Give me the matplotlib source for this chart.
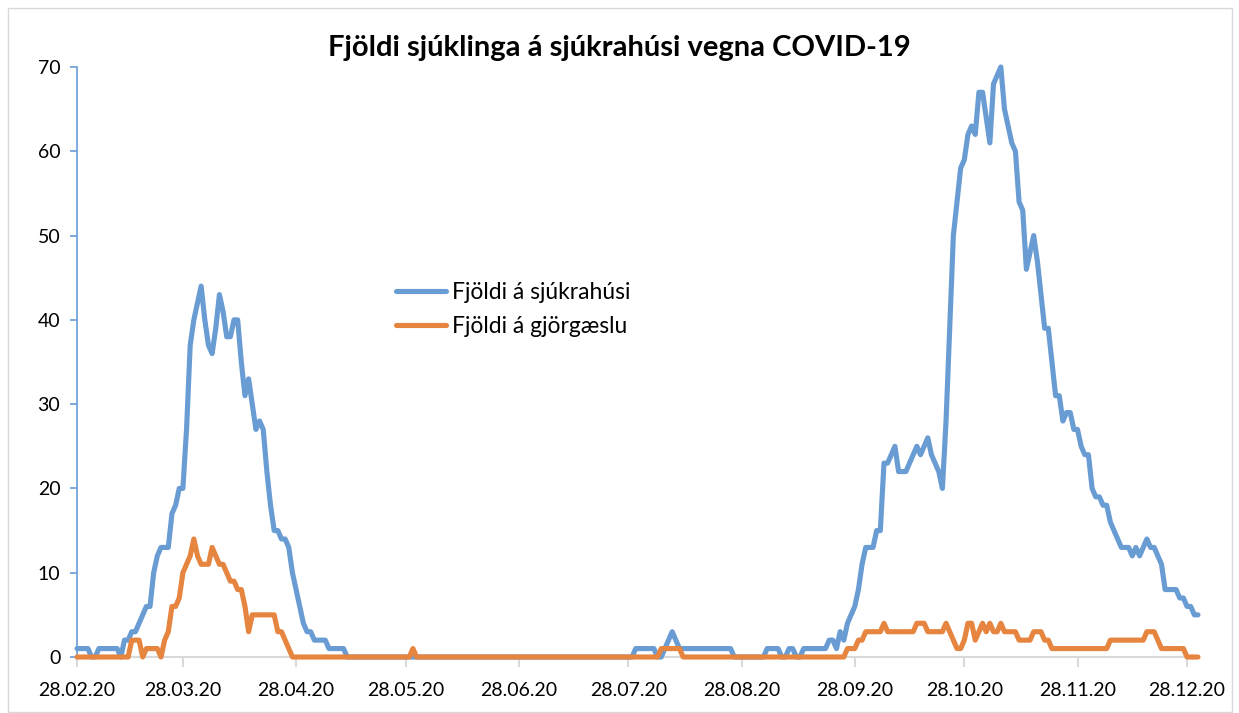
import matplotlib
matplotlib.use('Agg')
import matplotlib.pyplot as plt
import matplotlib.dates as mdates
import pandas as pd

# daily counts 28.02.2020 - 31.12.2020
dates = pd.date_range('2020-02-28', '2020-12-31', freq='D')

hospital = [
    1, 1, 1, 1, 0, 0, 1, 1, 1, 1,
    1, 1, 0, 2, 2, 3, 3, 4, 5, 6,
    6, 10, 12, 13, 13, 13, 17, 18, 20, 20,
    27, 37, 40, 42, 44, 40, 37, 36, 39, 43,
    41, 38, 38, 40, 40, 35, 31, 33, 30, 27,
    28, 27, 22, 18, 15, 15, 14, 14, 13, 10,
    8, 6, 4, 3, 3, 2, 2, 2, 2, 1,
    1, 1, 1, 1, 0, 0, 0, 0, 0, 0,
    0, 0, 0, 0, 0, 0, 0, 0, 0, 0,
    0, 0, 0, 0, 0, 0, 0, 0, 0, 0,
    0, 0, 0, 0, 0, 0, 0, 0, 0, 0,
    0, 0, 0, 0, 0, 0, 0, 0, 0, 0,
    0, 0, 0, 0, 0, 0, 0, 0, 0, 0,
    0, 0, 0, 0, 0, 0, 0, 0, 0, 0,
    0, 0, 0, 0, 0, 0, 0, 0, 0, 0,
    0, 0, 0, 1, 1, 1, 1, 1, 1, 0,
    0, 1, 2, 3, 2, 1, 1, 1, 1, 1,
    1, 1, 1, 1, 1, 1, 1, 1, 1, 1,
    0, 0, 0, 0, 0, 0, 0, 0, 0, 1,
    1, 1, 1, 0, 0, 1, 1, 0, 0, 1,
    1, 1, 1, 1, 1, 1, 2, 2, 1, 3,
    2, 4, 5, 6, 8, 11, 13, 13, 13, 15,
    15, 23, 23, 24, 25, 22, 22, 22, 23, 24,
    25, 24, 25, 26, 24, 23, 22, 20, 28, 39,
    50, 54, 58, 59, 62, 63, 62, 67, 67, 64,
    61, 68, 69, 70, 65, 63, 61, 60, 54, 53,
    46, 48, 50, 47, 43, 39, 39, 35, 31, 31,
    28, 29, 29, 27, 27, 25, 24, 24, 20, 19,
    19, 18, 18, 16, 15, 14, 13, 13, 13, 12,
    13, 12, 13, 14, 13, 13, 12, 11, 8, 8,
    8, 8, 7, 7, 6, 6, 5, 5,
]

icu = [
    0, 0, 0, 0, 0, 0, 0, 0, 0, 0,
    0, 0, 0, 0, 0, 2, 2, 2, 0, 1,
    1, 1, 1, 0, 2, 3, 6, 6, 7, 10,
    11, 12, 14, 12, 11, 11, 11, 13, 12, 11,
    11, 10, 9, 9, 8, 8, 6, 3, 5, 5,
    5, 5, 5, 5, 5, 3, 3, 2, 1, 0,
    0, 0, 0, 0, 0, 0, 0, 0, 0, 0,
    0, 0, 0, 0, 0, 0, 0, 0, 0, 0,
    0, 0, 0, 0, 0, 0, 0, 0, 0, 0,
    0, 0, 1, 0, 0, 0, 0, 0, 0, 0,
    0, 0, 0, 0, 0, 0, 0, 0, 0, 0,
    0, 0, 0, 0, 0, 0, 0, 0, 0, 0,
    0, 0, 0, 0, 0, 0, 0, 0, 0, 0,
    0, 0, 0, 0, 0, 0, 0, 0, 0, 0,
    0, 0, 0, 0, 0, 0, 0, 0, 0, 0,
    0, 0, 0, 0, 0, 0, 0, 0, 0, 0,
    1, 1, 1, 1, 1, 1, 0, 0, 0, 0,
    0, 0, 0, 0, 0, 0, 0, 0, 0, 0,
    0, 0, 0, 0, 0, 0, 0, 0, 0, 0,
    0, 0, 0, 0, 0, 0, 0, 0, 0, 0,
    0, 0, 0, 0, 0, 0, 0, 0, 0, 0,
    0, 1, 1, 1, 2, 2, 3, 3, 3, 3,
    3, 4, 3, 3, 3, 3, 3, 3, 3, 3,
    4, 4, 4, 3, 3, 3, 3, 3, 4, 3,
    2, 1, 1, 2, 4, 4, 2, 3, 4, 3,
    4, 3, 3, 4, 3, 3, 3, 3, 2, 2,
    2, 2, 3, 3, 3, 2, 2, 1, 1, 1,
    1, 1, 1, 1, 1, 1, 1, 1, 1, 1,
    1, 1, 1, 2, 2, 2, 2, 2, 2, 2,
    2, 2, 2, 3, 3, 3, 2, 1, 1, 1,
    1, 1, 1, 1, 0, 0, 0, 0,
]

tick_dates = [pd.Timestamp(2020, m, 28) for m in range(2, 13)]
labels = ['Fjöldi á sjúkrahúsi', 'Fjöldi á gjörgæslu']
title = 'Fjöldi sjúklinga á sjúkrahúsi vegna COVID-19'

blue = '#6a9cd4'
orange = '#e6853f'
grey = '#d9d9d9'

plt.rcParams['font.family'] = ['Lato', 'DejaVu Sans']

W, H = 1239, 713
fig = plt.figure(figsize=(W / 100, H / 100), dpi=100)
ax = fig.add_axes([77 / W, 56 / H, (1198 - 77) / W, 590 / H])

ax.plot(dates, hospital, color=blue, lw=3.7, solid_joinstyle='round',
        solid_capstyle='round', clip_on=False, label=labels[0], zorder=3)
ax.plot(dates, icu, color=orange, lw=3.7, solid_joinstyle='round',
        solid_capstyle='round', clip_on=False, label=labels[1], zorder=4)

ax.set_ylim(0, 70)
ax.set_yticks(range(0, 71, 10))
ax.set_xlim(dates[0], dates[-1])
ax.set_xticks(tick_dates)
ax.xaxis.set_major_formatter(mdates.DateFormatter('%d.%m.%y'))

for s in ['top', 'right']:
    ax.spines[s].set_visible(False)
ax.spines['left'].set_color(blue)
ax.spines['left'].set_linewidth(1.2)
ax.spines['bottom'].set_color(grey)
ax.spines['bottom'].set_linewidth(1.5)

ax.tick_params(axis='y', colors=blue, direction='out', length=5, width=1.2,
               labelcolor='black', labelsize=14, pad=7)
ax.tick_params(axis='x', colors=grey, direction='out', length=7, width=1.5,
               labelcolor='black', labelsize=14, pad=11)

fig.text(0.5, 1 - 48 / H, title, ha='center', va='center',
         fontsize=21, fontweight='bold')

ax.legend(loc='upper left', bbox_to_anchor=(396 / W, 1 - 282 / H),
          bbox_transform=fig.transFigure, frameon=False, fontsize=16.5,
          handlelength=2.2, handletextpad=0.25, labelspacing=0.58,
          borderpad=0, borderaxespad=0)

fig.add_artist(plt.Rectangle((8 / W, 1 / H), 1224 / W, 704 / H,
                             transform=fig.transFigure, fill=False,
                             edgecolor=grey, lw=1))

fig.savefig('out.png', dpi=100)
